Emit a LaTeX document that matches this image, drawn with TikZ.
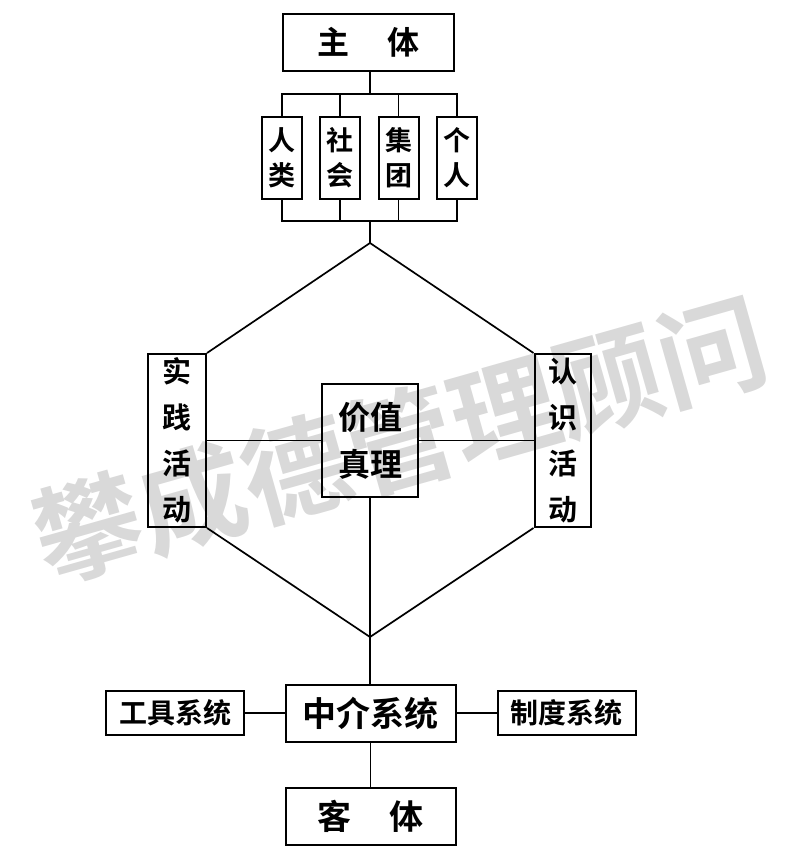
\documentclass[tikz,border=0pt]{standalone}
\usepackage{fontspec}
\setmainfont{Noto Sans CJK SC}[BoldFont={Noto Sans CJK SC Bold}]
\begin{document}
\begin{tikzpicture}[x=1pt,y=-1pt,
  box/.style={draw, line width=2pt, inner sep=0pt, align=center},
  conn/.style={line width=1.7pt},
  wm/.style={text=black!15, font=\fontsize{108}{108}\selectfont\bfseries}]
\useasboundingbox (0,0) rectangle (800,862);
% watermark
\node[wm, rotate=15.8] (wmark) at (400,440) {攀成德管理顾问};
% top
\node[box, minimum width=171pt, minimum height=57pt, font=\fontsize{32}{32}\selectfont\bfseries] (zhuti) at (368.5,42.5) {主\hspace{38pt}体};
\node[box, minimum width=40pt, minimum height=82pt, font=\fontsize{27}{35}\selectfont\bfseries] (renlei) at (282,158) {人\\类};
\node[box, minimum width=40pt, minimum height=82pt, font=\fontsize{27}{35}\selectfont\bfseries] (shehui) at (340,158) {社\\会};
\node[box, minimum width=40pt, minimum height=82pt, font=\fontsize{27}{35}\selectfont\bfseries] (jituan) at (398.5,158) {集\\团};
\node[box, minimum width=40pt, minimum height=82pt, font=\fontsize{27}{35}\selectfont\bfseries] (geren) at (457,158) {个\\人};
% middle
\node[box, minimum width=58pt, minimum height=173pt, font=\fontsize{29}{46}\selectfont\bfseries] (shijian) at (177,440.5) {实\\践\\活\\动};
\node[box, minimum width=56pt, minimum height=173pt, font=\fontsize{29}{46}\selectfont\bfseries] (renshi) at (562.5,440.5) {认\\识\\活\\动};
\node[box, minimum width=96pt, minimum height=113pt, font=\fontsize{32}{47}\selectfont\bfseries] (jiazhi) at (370,440.5) {价值\\真理};
% bottom
\node[box, minimum width=170pt, minimum height=57pt, font=\fontsize{34}{34}\selectfont\bfseries] (zhongjie) at (370.5,713) {中介系统};
\node[box, minimum width=138pt, minimum height=44pt, font=\fontsize{28}{28}\selectfont\bfseries] (gongju) at (175,713) {工具系统};
\node[box, minimum width=138pt, minimum height=44pt, font=\fontsize{28}{28}\selectfont\bfseries] (zhidu) at (566.5,713) {制度系统};
\node[box, minimum width=170pt, minimum height=57pt, font=\fontsize{34}{34}\selectfont\bfseries] (keti) at (370.5,816) {客\hspace{38pt}体};
% coordinates
\coordinate (tb) at (370,94);
\coordinate (bb) at (370,221);
\coordinate (apex) at (370,243);
\coordinate (bot) at (370,637);
% connectors
\draw[conn] (zhuti.south -| tb) -- (tb);
\draw[conn] (renlei.north) -- (renlei.north |- tb) -- (geren.north |- tb) -- (geren.north);
\draw[conn] (shehui.north) -- (shehui.north |- tb);
\draw[conn] (jituan.north) -- (jituan.north |- tb);
\draw[conn] (renlei.south) -- (renlei.south |- bb) -- (geren.south |- bb) -- (geren.south);
\draw[conn] (shehui.south) -- (shehui.south |- bb);
\draw[conn] (jituan.south) -- (jituan.south |- bb);
\draw[conn] (bb) -- (apex);
\draw[conn] (shijian.north east) -- (apex) -- (renshi.north west);
\draw[conn] (shijian.south east) -- (bot) -- (renshi.south west);
\draw[conn] (shijian.east) -- (jiazhi.west);
\draw[conn] (jiazhi.east) -- (renshi.west);
\draw[conn] (jiazhi.south) -- (zhongjie.north -| jiazhi.south);
\draw[conn] (gongju.east) -- (zhongjie.west);
\draw[conn] (zhongjie.east) -- (zhidu.west);
\draw[conn] (zhongjie.south) -- (keti.north);
\end{tikzpicture}
\end{document}
